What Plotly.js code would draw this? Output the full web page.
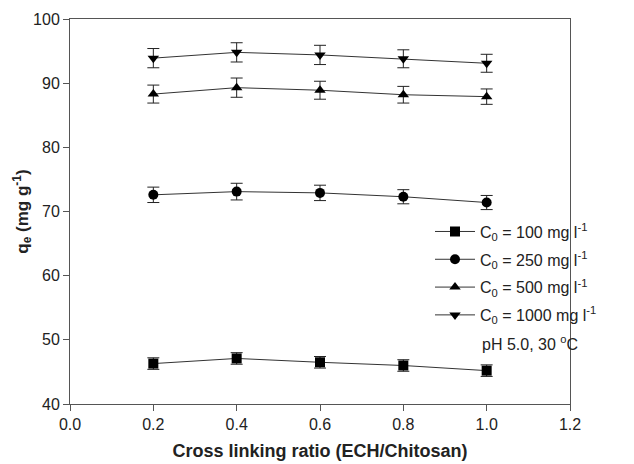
<!DOCTYPE html>
<html><head><meta charset="utf-8">
<script src="https://cdn.plot.ly/plotly-3.0.1.min.js"></script>
<style>html,body{margin:0;padding:0;background:#fff}</style>
</head><body><div id="chart" style="width:634px;height:464px"></div>
<script>
const ratio = [0.2, 0.4, 0.6, 0.8, 1.0];
const q100 = [46.3, 47.1, 46.5, 46.0, 45.2];
const e100 = [0.9, 0.9, 0.9, 0.9, 0.9];
const q250 = [72.6, 73.1, 72.9, 72.3, 71.4];
const e250 = [1.2, 1.3, 1.2, 1.1, 1.1];
const q500 = [88.3, 89.3, 88.9, 88.2, 87.9];
const e500 = [1.4, 1.5, 1.4, 1.3, 1.2];
const q1000 = [93.9, 94.8, 94.4, 93.8, 93.1];
const e1000 = [1.5, 1.5, 1.5, 1.4, 1.4];
const names = ['C<sub>0</sub> = 100 mg l<sup>-1</sup>','C<sub>0</sub> = 250 mg l<sup>-1</sup>','C<sub>0</sub> = 500 mg l<sup>-1</sup>','C<sub>0</sub> = 1000 mg l<sup>-1</sup>'];
const symbols = ['square','circle','triangle-up','triangle-down'];
const ys = [q100,q250,q500,q1000];
const es = [e100,e250,e500,e1000];
const traces = ys.map((y,i)=>({
  x: ratio, y: y, name: names[i], legendgroup:'g'+i, type:'scatter', mode:'lines+markers',
  line:{color:'#333', width:1},
  marker:{symbol:symbols[i], size:10, color:'#000'},
  error_y:{type:'data', array:es[i], visible:true, color:'#222', thickness:1, width:6}
}));
const font = {family:'"Liberation Sans", Arial, sans-serif', color:'#222'};
const layout = {
  width:634, height:464,
  margin:{l:70, r:64, t:19, b:60},
  paper_bgcolor:'#fff', plot_bgcolor:'#fff',
  font: Object.assign({size:16}, font),
  showlegend:true,
  legend:{x:0.72, y:0.492, xanchor:'left', yanchor:'top', bgcolor:'rgba(0,0,0,0)', font:{size:16}, tracegroupgap:4, itemwidth:40},
  xaxis:{range:[0,1.2], dtick:0.2, tickformat:'.1f', ticks:'outside', ticklen:6, tickcolor:'#555',
    showline:true, linecolor:'#555', linewidth:1, mirror:true, showgrid:false, zeroline:false,
    title:{text:'<b>Cross linking ratio (ECH/Chitosan)</b>', font:{size:18}, standoff:12}},
  yaxis:{range:[40,100], dtick:10, ticks:'outside', ticklen:6, tickcolor:'#555',
    showline:true, linecolor:'#555', linewidth:1, mirror:true, showgrid:false, zeroline:false,
    title:{text:'<b>q<sub>e</sub> (mg g<sup>-1</sup>)</b>', font:{size:17}, standoff:0}},
  annotations:[{xref:'paper', yref:'paper', x:0.82, y:0.158, xanchor:'left', yanchor:'middle', showarrow:false,
    text:'pH 5.0, 30 <sup>o</sup>C', font:{size:16}}]
};
Plotly.newPlot('chart', traces, layout, {displayModeBar:false, staticPlot:true});
</script></body></html>
